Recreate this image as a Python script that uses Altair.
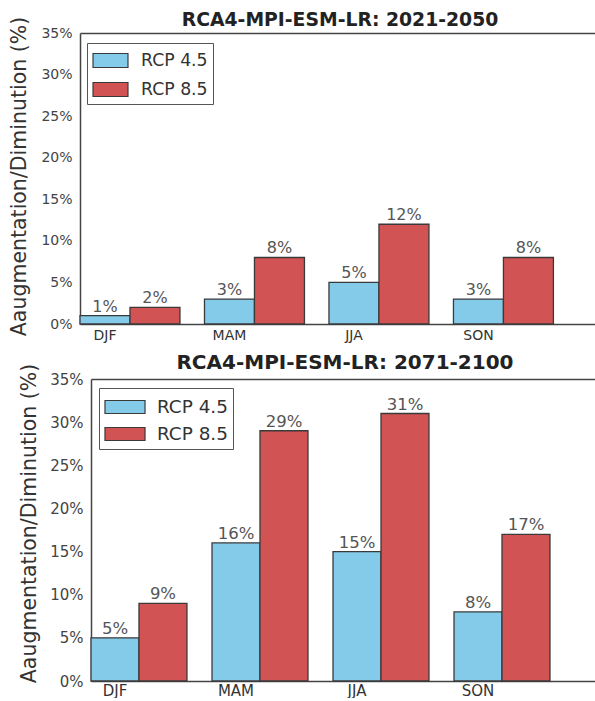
import altair as alt
import pandas as pd

# Seasonal change per scenario and period (%)
seasons = ["DJF", "MAM", "JJA", "SON"]
scenarios = ["RCP 4.5", "RCP 8.5"]
rcp45_2021_2050 = [1, 3, 5, 3]
rcp85_2021_2050 = [2, 8, 12, 8]
rcp45_2071_2100 = [5, 16, 15, 8]
rcp85_2071_2100 = [9, 29, 31, 17]
y_ticks = [0, 5, 10, 15, 20, 25, 30, 35]
bar_colors = ["#84CBEA", "#D25353"]

FONT = "DejaVu Sans"
Y_TITLE = "Aaugmentation/Diminution (%)"


def table(v45, v85):
    rows = []
    for s, a, b in zip(seasons, v45, v85):
        rows.append({"season": s, "scenario": scenarios[0], "value": a})
        rows.append({"season": s, "scenario": scenarios[1], "value": b})
    df = pd.DataFrame(rows)
    df["label"] = df["value"].astype(str) + "%"
    return df


def panel(df, title, height, x_range, pad_inner, pad_outer, axis_shift,
          label_shift, title_dx, title_gap, sizes, title_pad, title_y,
          x_label_pad, legend_x, legend_y, swatch_path, swatch_size,
          swatch_shift, label_gap, row_gap):
    x_scale = alt.Scale(domain=seasons, range=x_range, paddingInner=pad_inner,
                        paddingOuter=pad_outer, align=0)
    y_scale = alt.Scale(domain=[0, 35], nice=False)
    offset_scale = alt.Scale(domain=scenarios, paddingInner=0, paddingOuter=0)

    bars = alt.Chart(df).mark_bar(stroke="#3a3a3a", strokeWidth=1.3).encode(
        x=alt.X("season:N", scale=x_scale, sort=seasons,
                axis=alt.Axis(orient="bottom", title=None, labelAngle=0,
                              ticks=False, labelOffset=label_shift,
                              labelPadding=x_label_pad,
                              labelFontSize=sizes["tick"],
                              labelColor="#333", labelFont=FONT,
                              domainColor="#444", domainWidth=1.5)),
        xOffset=alt.XOffset("scenario:N", scale=offset_scale, sort=scenarios),
        y=alt.Y("value:Q", scale=y_scale,
                axis=alt.Axis(title=Y_TITLE, values=y_ticks,
                              labelExpr="datum.value + '%'", ticks=False,
                              grid=False, offset=axis_shift,
                              labelPadding=8, labelFontSize=sizes["tick"],
                              labelColor="#444", labelFont=FONT,
                              titleFont=FONT, titleFontSize=sizes["ytitle"],
                              titleFontWeight="normal", titleColor="#333",
                              titlePadding=title_pad, titleY=title_y,
                              domainColor="#444", domainWidth=1.5)),
        fill=alt.Fill("scenario:N", sort=scenarios,
                      scale=alt.Scale(domain=scenarios, range=bar_colors),
                      legend=alt.Legend(
                          title=None, orient="none", legendX=legend_x,
                          legendY=legend_y, direction="vertical",
                          symbolType=swatch_path, symbolSize=swatch_size,
                          symbolOffset=swatch_shift,
                          symbolStrokeColor="#3a3a3a", symbolStrokeWidth=1.2,
                          labelFont=FONT, labelFontSize=sizes["legend"],
                          labelColor="#333", labelOffset=label_gap,
                          rowPadding=row_gap, padding=5,
                          strokeColor="#555", fillColor="white",
                          cornerRadius=0)),
    )

    labels = alt.Chart(df).mark_text(
        baseline="bottom", dy=-1, font=FONT, fontSize=sizes["value"],
        color="#555"
    ).encode(
        x=alt.X("season:N", scale=x_scale, sort=seasons,
                axis=alt.Axis(orient="top", title=None, labels=False,
                              ticks=False, domainColor="#444",
                              domainWidth=1.5)),
        xOffset=alt.XOffset("scenario:N", scale=offset_scale, sort=scenarios),
        y=alt.Y("value:Q", scale=y_scale),
        text="label:N",
    )

    return alt.layer(bars, labels).resolve_axis(x="independent").properties(
        width=515, height=height,
        title=alt.TitleParams(title, font=FONT, fontSize=sizes["title"],
                              fontWeight="bold", color="#222",
                              anchor="middle", frame="group", dx=title_dx,
                              offset=title_gap),
    )


top = panel(table(rcp45_2021_2050, rcp85_2021_2050),
            "RCA4-MPI-ESM-LR: 2021-2050", 291, [0, 515], 0.197, 0.167,
            0, -25, 2.5, -13,
            {"tick": 14, "ytitle": 20.5, "legend": 17.3, "value": 16,
             "title": 18.8},
            11, 143, 4, 7, 10, "M-1.52,-0.61H1.52V0.61H-1.52Z", 529, 6, 18, 7)

bottom = panel(table(rcp45_2071_2100, rcp85_2071_2100),
               "RCA4-MPI-ESM-LR: 2071-2100", 302, [11, 515], 0.207, 0.186,
               -11, -24, 7.5, -10,
               {"tick": 15, "ytitle": 20.5, "legend": 18.4, "value": 16.5,
                "title": 20},
               10, 144, 2, 19, 9, "M-1.54,-0.5H1.54V0.5H-1.54Z", 676, 7, 18, 3)

chart = alt.vconcat(top, bottom, spacing=55, bounds="flush").resolve_scale(
    x="independent", xOffset="independent", fill="independent"
).properties(
    padding={"left": 9, "top": 10, "right": 0, "bottom": 0},
    background="white",
).configure_view(stroke=None)

chart.save("out.html", embed_options={"renderer": "svg", "actions": False})
